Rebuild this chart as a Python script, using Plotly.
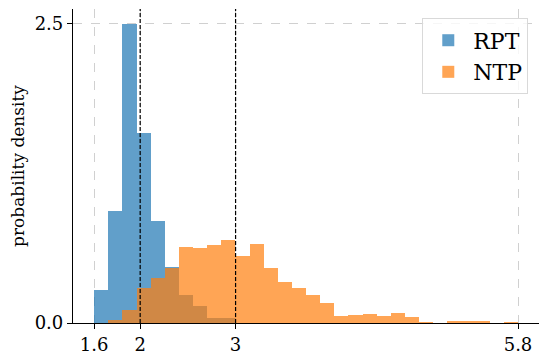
import numpy as np
import plotly.graph_objects as go

# bin edges (axis units; ticks are relabelled below)
x_lo, x_hi, n_bins = 1.518, 5.96, 30
tick_vals = [1.518, 2, 3, 5.96]
tick_text = ['1.6', '2', '3', '5.8']

# probability density per bin
rpt = [0.279, 0.94, 2.50, 1.585, 0.851, 0.471, 0.232, 0.145, 0.045, 0.039,
       0, 0, 0, 0, 0, 0, 0, 0, 0, 0, 0, 0, 0, 0, 0, 0, 0, 0, 0, 0]
ntp = [0, 0.022, 0.112, 0.296, 0.374, 0.463, 0.636, 0.628, 0.656, 0.692,
       0.564, 0.664, 0.463, 0.346, 0.290, 0.234, 0.167, 0.056, 0.070, 0.078,
       0.061, 0.084, 0.050, 0.008, 0, 0.011, 0.011, 0.011, 0, 0.008]

edges = np.linspace(x_lo, x_hi, n_bins + 1)
centers = (edges[:-1] + edges[1:]) / 2
width = edges[1] - edges[0]

font = 'DejaVu Serif'

fig = go.Figure()
fig.add_trace(go.Bar(x=centers, y=rpt, width=width, name='RPT',
                     marker=dict(color='#1f77b4', line=dict(width=0)), opacity=0.7))
fig.add_trace(go.Bar(x=centers, y=ntp, width=width, name='NTP',
                     marker=dict(color='#ff7f0e', line=dict(width=0)), opacity=0.7))

# dashed reference lines at 2 and 3
for xv in [2, 3]:
    fig.add_shape(type='line', x0=xv, x1=xv, y0=0, y1=1, xref='x', yref='paper',
                  line=dict(color='black', width=1.2, dash='4px,2px'))

fig.update_layout(
    width=548, height=362,
    margin=dict(l=73, r=9, t=9, b=39),
    barmode='overlay', bargap=0,
    plot_bgcolor='white', paper_bgcolor='white',
    font=dict(family=font, size=18, color='black'),
    showlegend=True,
    legend=dict(x=0.977, y=0.97, xanchor='right', yanchor='top',
                bgcolor='rgba(255,255,255,0.8)', bordercolor='#d9d9d9', borderwidth=1,
                font=dict(size=22), itemwidth=40),
    xaxis=dict(range=[1.296, 6.18], tickvals=tick_vals, ticktext=tick_text,
               showline=True, linecolor='black', linewidth=1.2,
               ticks='outside', ticklen=5, tickcolor='black',
               showgrid=True, gridcolor='#d0d0d0', griddash='dash', gridwidth=1,
               zeroline=False, automargin=False),
    yaxis=dict(range=[0, 2.625], tickvals=[0, 2.5], ticktext=['0.0', '2.5'],
               showline=True, linecolor='black', linewidth=1.2,
               ticks='outside', ticklen=5, tickcolor='black',
               showgrid=True, gridcolor='#d0d0d0', griddash='dash', gridwidth=1,
               zeroline=False, automargin=False,
               title=dict(text='probability density', standoff=5, font=dict(size=17))),
)

# page body has a default 8px margin; drop it so the figure sits at the corner
fig.write_html('out.html', config={'displayModeBar': False},
               post_script="document.body.style.margin='0';")
